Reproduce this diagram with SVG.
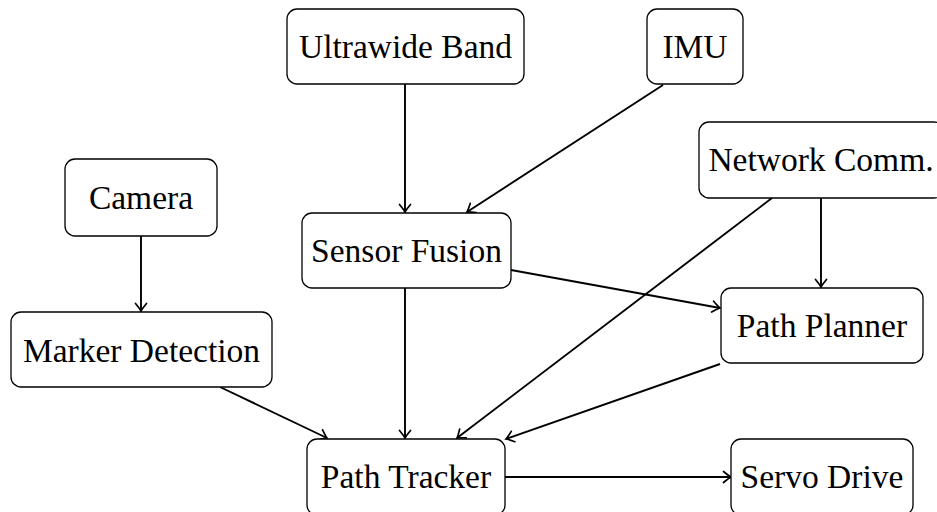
<svg xmlns="http://www.w3.org/2000/svg" width="937" height="512" viewBox="0 0 937 512">
  <style>
    .box { fill: #ffffff; stroke: #000000; stroke-width: 1.3; }
    .lbl { font-family: 'Liberation Serif', 'Times New Roman', 'DejaVu Serif', serif; font-size: 33.5px; fill: #000000; text-anchor: middle; }
    .edge { fill: none; stroke: #000000; stroke-width: 1.9; marker-end: url(#arrow); }
  </style>
  <defs>
    <marker id="arrow" viewBox="-9 -7 11 14" markerWidth="11" markerHeight="14" refX="0" refY="0" orient="auto" markerUnits="userSpaceOnUse">
      <path d="M -7.5 -5.5 Q -2 -1 0 0 Q -2 1 -7.5 5.5" fill="none" stroke="#000000" stroke-width="1.7" stroke-linecap="round"/>
    </marker>
  </defs>
  <rect width="937" height="512" fill="#ffffff"/>

  <g id="connectors">
    <line class="edge" x1="405" y1="84" x2="405" y2="212"/>
    <line class="edge" x1="663" y1="85" x2="467" y2="212"/>
    <line class="edge" x1="141" y1="236" x2="141" y2="311"/>
    <line class="edge" x1="511" y1="270" x2="720" y2="308"/>
    <line class="edge" x1="821" y1="198" x2="821" y2="287"/>
    <line class="edge" x1="772" y1="198" x2="457" y2="438"/>
    <line class="edge" x1="405" y1="288" x2="405" y2="438"/>
    <line class="edge" x1="220" y1="387" x2="327" y2="438"/>
    <line class="edge" x1="720" y1="364" x2="506" y2="439"/>
    <line class="edge" x1="505" y1="477" x2="731" y2="477"/>
  </g>

  <g id="ultrawide-band">
    <rect class="box" x="287" y="9" width="237" height="75" rx="10"/>
    <text class="lbl" x="405.5" y="58">Ultrawide Band</text>
  </g>
  <g id="imu">
    <rect class="box" x="647" y="9" width="96" height="75" rx="10"/>
    <text class="lbl" x="695" y="58">IMU</text>
  </g>
  <g id="network-comm">
    <rect class="box" x="699" y="122" width="245" height="76" rx="10"/>
    <text class="lbl" x="821" y="171">Network Comm.</text>
  </g>
  <g id="camera">
    <rect class="box" x="65" y="159" width="152" height="77" rx="10"/>
    <text class="lbl" x="141" y="209">Camera</text>
  </g>
  <g id="sensor-fusion">
    <rect class="box" x="302" y="213" width="209" height="75" rx="10"/>
    <text class="lbl" x="406.5" y="262">Sensor Fusion</text>
  </g>
  <g id="marker-detection">
    <rect class="box" x="11" y="312" width="261" height="75" rx="10"/>
    <text class="lbl" x="141.5" y="362">Marker Detection</text>
  </g>
  <g id="path-planner">
    <rect class="box" x="721" y="288" width="202" height="75" rx="10"/>
    <text class="lbl" x="822" y="337">Path Planner</text>
  </g>
  <g id="path-tracker">
    <rect class="box" x="307" y="439" width="198" height="76" rx="10"/>
    <text class="lbl" x="406" y="488">Path Tracker</text>
  </g>
  <g id="servo-drive">
    <rect class="box" x="731" y="439" width="182" height="76" rx="10"/>
    <text class="lbl" x="822" y="488">Servo Drive</text>
  </g>
</svg>
